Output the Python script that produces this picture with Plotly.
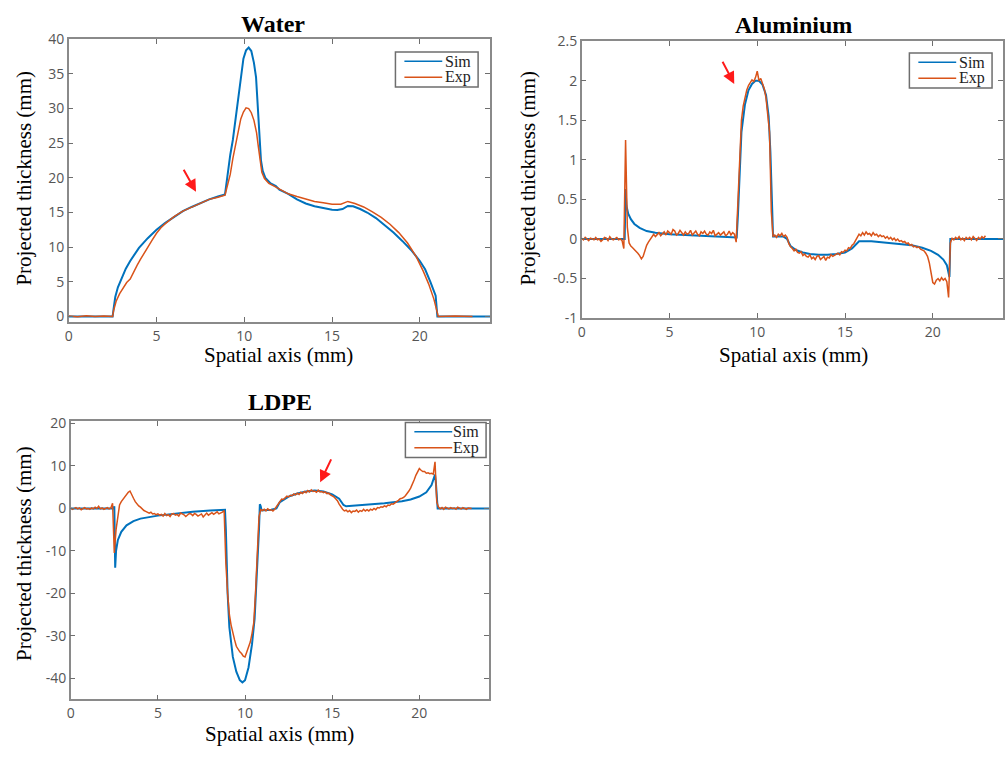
import numpy as np
import plotly.graph_objects as go

SIM_C = "#0072BD"
EXP_C = "#D95319"
series_names = ["Sim", "Exp"]

# ---------------- Water ----------------
water_sim_x = [0, 2.5, 2.55, 2.65, 2.8, 3.0, 3.25, 3.5, 3.75, 4.0, 4.5, 5.0, 5.5, 6.0, 6.5, 7.0, 7.5, 8.0, 8.5, 8.9,
               9.0, 9.1, 9.2, 9.35, 9.5, 9.65, 9.8, 9.95, 10.1, 10.25, 10.4, 10.55, 10.67, 10.78, 10.85, 10.95, 11.05,
               11.2, 11.5, 11.8, 12.0, 12.5, 13.0, 13.5, 14.0, 14.5, 15.0, 15.3, 15.6, 15.9, 16.2, 16.6, 17.0, 17.5,
               18.0, 18.5, 19.0, 19.5, 20.0, 20.3, 20.6, 20.9, 21.0, 24.0]
water_sim_y = [0, 0, 1.0, 2.8, 4.2, 5.5, 6.9, 8.0, 9.0, 9.9, 11.3, 12.5, 13.5, 14.4, 15.2, 15.8, 16.4, 16.9, 17.3, 17.6,
               19.5, 21.5, 23.3, 25.5, 28.5, 32.0, 35.0, 37.2, 38.4, 38.8, 38.3, 36.6, 34.5, 30.0, 26.5, 22.5, 21.0,
               20.0, 19.2, 18.8, 18.3, 17.7, 16.9, 16.3, 15.9, 15.6, 15.4, 15.35, 15.5, 15.95, 15.9, 15.5, 15.0, 14.2,
               13.2, 12.1, 10.9, 9.6, 8.0, 6.8, 5.0, 3.0, 0, 0]
water_exp_x = [0, 0.5, 1.0, 1.5, 2.0, 2.5, 2.55, 2.7, 2.9, 3.1, 3.3, 3.5, 3.7, 3.9, 4.1, 4.3, 4.5, 4.75, 5.0, 5.25, 5.5,
               5.75, 6.0, 6.5, 7.0, 7.5, 8.0, 8.5, 8.9, 9.05, 9.2, 9.35, 9.5, 9.65, 9.8, 9.95, 10.1, 10.25, 10.4, 10.55,
               10.7, 10.8, 10.9, 11.0, 11.15, 11.4, 11.7, 12.0, 12.5, 13.0, 13.5, 14.0, 14.5, 15.0, 15.5, 15.9, 16.3,
               16.8, 17.3, 17.8, 18.3, 18.8, 19.3, 19.8, 20.2, 20.5, 20.8, 20.95, 21.05, 22.0, 23.0]
water_exp_y = [0.05, -0.05, 0.1, 0.0, 0.05, 0.0, 0.8, 2.2, 3.3, 4.2, 4.9, 5.4, 6.5, 7.4, 8.3, 9.2, 10.0, 11.0, 12.0, 12.8,
               13.4, 13.9, 14.4, 15.2, 15.8, 16.4, 16.9, 17.2, 17.5, 19.0, 20.5, 22.8, 24.7, 26.8, 28.5, 29.5, 30.1,
               30.0, 29.4, 28.3, 26.5, 24.5, 22.5, 20.8, 19.9, 19.2, 18.8, 18.4, 17.7, 17.3, 16.9, 16.6, 16.4, 16.2,
               16.2, 16.6, 16.3, 15.8, 15.1, 14.3, 13.3, 12.1, 10.6, 8.6, 6.5, 4.7, 2.5, 1.2, 0.0, 0.05, 0.0]

# ---------------- Aluminium ----------------
al_sim_x = [0, 2.45, 2.5, 2.55, 2.65, 2.8, 3.0, 3.3, 3.7, 4.2, 5.0, 6.0, 7.0, 8.0, 8.83, 8.9, 9.0, 9.1, 9.3, 9.5, 9.7,
            9.9, 10.1, 10.3, 10.5, 10.65, 10.75, 10.85, 10.9, 11.5, 11.7, 11.9, 12.2, 12.6, 13.0, 13.5, 14.0, 14.5,
            15.0, 15.4, 15.7, 15.8, 16.5, 17.0, 18.0, 18.8, 19.4, 19.9, 20.3, 20.6, 20.8, 20.9, 20.95, 21.0, 24.0]
al_sim_y = [0, 0, 0.63, 0.42, 0.32, 0.25, 0.19, 0.14, 0.10, 0.08, 0.06, 0.05, 0.04, 0.03, 0.02, 0.3, 0.95, 1.35, 1.7,
            1.88, 1.96, 2.0, 2.0, 1.95, 1.82, 1.55, 1.1, 0.3, 0.03, 0.03, 0.0, -0.09, -0.14, -0.17, -0.19, -0.2, -0.2,
            -0.19, -0.17, -0.12, -0.05, -0.03, -0.03, -0.04, -0.06, -0.08, -0.11, -0.15, -0.2, -0.26, -0.33, -0.42,
            -0.48, 0.0, 0.0]
al_exp_x = [round(0.1 * i, 1) for i in range(231)]
al_exp_y = [
    0.01, -0.01, 0.02, 0.00, -0.02, 0.01, 0.00, -0.01, 0.02, -0.01,
    0.00, -0.03, -0.01, 0.02, 0.01, -0.02, 0.03, 0.00, -0.01, 0.01,
    0.02, -0.01, 0.00, -0.02, -0.12, 1.25, 0.15, -0.05, -0.09, -0.11,
    -0.13, -0.15, -0.18, -0.21, -0.25, -0.22, -0.14, -0.08, -0.04, -0.01,
    0.02, 0.06, 0.03, 0.05, 0.08, 0.04, 0.07, 0.09, 0.05, 0.10,
    0.08, 0.06, 0.12, 0.10, 0.05, 0.07, 0.11, 0.08, 0.05, 0.09,
    0.06, 0.07, 0.11, 0.05, 0.08, 0.10, 0.06, 0.04, 0.09, 0.07,
    0.10, 0.06, 0.05, 0.09, 0.07, 0.11, 0.04, 0.06, 0.08, 0.05,
    0.07, 0.09, 0.04, 0.06, 0.10, 0.05, 0.08, 0.06, -0.04, 0.45,
    1.05, 1.50, 1.68, 1.80, 1.88, 1.94, 1.97, 2.01, 1.99, 2.04,
    2.12, 2.00, 2.03, 1.95, 1.90, 1.78, 1.60, 1.35, 0.35, 0.03,
    0.05, 0.02, 0.06, 0.04, 0.07, 0.03, 0.05, 0.02, -0.06, -0.10,
    -0.12, -0.15, -0.13, -0.17, -0.18, -0.16, -0.21, -0.19, -0.22, -0.23,
    -0.20, -0.25, -0.23, -0.26, -0.22, -0.21, -0.26, -0.24, -0.22, -0.27,
    -0.23, -0.24, -0.20, -0.22, -0.21, -0.19, -0.18, -0.20, -0.16, -0.17,
    -0.14, -0.15, -0.11, -0.12, -0.08, -0.06, -0.02, 0.03, 0.06, 0.04,
    0.08, 0.05, 0.09, 0.06, 0.07, 0.04, 0.08, 0.05, 0.06, 0.03,
    0.05, 0.03, 0.04, 0.01, 0.03, 0.00, 0.02, -0.01, 0.01, -0.02,
    0.00, -0.03, -0.02, -0.04, -0.03, -0.06, -0.05, -0.08, -0.07, -0.10,
    -0.09, -0.11, -0.10, -0.13, -0.14, -0.15, -0.18, -0.22, -0.30, -0.42,
    -0.55, -0.57, -0.52, -0.50, -0.53, -0.49, -0.52, -0.50, -0.54, -0.74,
    -0.05, 0.01, -0.01, 0.02, 0.00, 0.03, -0.01, 0.01, -0.02, 0.02,
    0.00, 0.02, -0.01, 0.03, 0.01, -0.02, 0.02, 0.00, 0.03, 0.01,
    0.04]

# ---------------- LDPE ----------------
ldpe_sim_x = [0, 2.45, 2.5, 2.55, 2.6, 2.7, 2.9, 3.2, 3.6, 4.0, 5.0, 6.0, 7.0, 8.0, 8.85, 8.9, 9.0, 9.1, 9.3, 9.5, 9.7,
              9.85, 10.0, 10.2, 10.4, 10.55, 10.7, 10.8, 10.85, 10.9, 10.95, 11.5, 11.8, 12.0, 12.5, 13.0, 13.5, 14.0,
              14.5, 15.0, 15.4, 15.65, 15.8, 16.5, 17.0, 18.0, 19.0, 19.5, 20.0, 20.4, 20.7, 20.9, 20.95, 21.0, 21.05,
              24.0]
ldpe_sim_y = [0, 0, 0.5, -14.0, -10.0, -7.5, -5.5, -4.0, -3.0, -2.4, -1.7, -1.2, -0.8, -0.5, -0.3, -5.0, -20.0, -28.0,
              -35.0, -38.5, -40.5, -41.0, -40.5, -37.5, -32.0, -26.0, -15.0, -5.0, 1.0, 0.5, -0.5, -0.3, 0.0, 1.5, 2.8,
              3.5, 4.0, 4.2, 4.0, 3.3, 2.3, 0.8, 0.5, 0.7, 0.9, 1.2, 1.7, 2.1, 2.8, 3.8, 5.5, 8.0, 6.0, 2.0, 0.0, 0.0]
ldpe_exp_x = [round(0.1 * i, 1) for i in range(231)]
ldpe_exp_y = [
    0.1, -0.2, 0.0, 0.2, -0.1, 0.1, -0.3, 0.0, 0.2, -0.1,
    0.0, -0.2, 0.1, -0.1, 0.3, 0.0, 0.5, -0.1, 0.1, -0.2,
    0.0, 0.2, -0.1, 0.1, 1.2, -10.5, -5.0, -1.5, 0.8, 1.6,
    2.2, 2.8, 3.3, 3.8, 4.1, 3.4, 2.4, 1.6, 1.0, 0.6,
    0.3, -0.2, -0.5, -0.7, -1.0, -1.1, -0.9, -1.3, -1.2, -1.5,
    -1.3, -1.6, -1.4, -1.8, -1.2, -1.7, -1.5, -1.9, -1.3, -1.2,
    -1.6, -1.4, -1.8, -1.1, -1.3, -1.5, -1.9, -1.6, -1.2, -1.3,
    -1.7, -1.2, -1.4, -1.8, -1.5, -1.3, -2.0, -1.4, -1.1, -1.6,
    -1.2, -1.0, -1.4, -1.1, -0.8, -1.3, -1.1, -0.9, -0.5, -13.0,
    -20.0, -25.0, -27.5, -29.5, -31.0, -32.5, -33.2, -33.8, -34.2, -34.8,
    -35.0, -33.8, -33.0, -31.5, -29.5, -27.0, -20.0, -10.0, -2.0, -0.3,
    -0.5, -0.2, -0.6, -0.1, -0.4, -0.3, -0.6, -0.2, 0.4, 1.2,
    1.8, 2.2, 2.1, 2.6, 2.9, 2.7, 3.1, 3.0, 3.4, 3.2,
    3.6, 3.3, 3.8, 3.5, 4.0, 3.7, 4.2, 3.9, 4.4, 4.0,
    4.1, 3.8, 4.3, 3.9, 4.0, 3.7, 3.9, 3.5, 3.6, 3.2,
    3.0, 2.7, 2.3, 1.8, 1.0, 0.3, -0.2, -0.6, -0.4, -0.8,
    -0.5, -1.0, -0.6, -0.7, -0.4, -0.9, -0.5, -0.7, -0.2, -0.6,
    -0.3, -0.6, -0.2, -0.4, 0.0, -0.3, 0.2, 0.1, 0.4, 0.3,
    0.6, 0.4, 0.8, 0.7, 1.1, 1.0, 1.4, 1.6, 1.9, 2.3,
    2.4, 2.6, 3.0, 3.5, 4.1, 4.8, 5.6, 6.7, 7.8, 8.8,
    9.4, 9.0, 8.7, 8.7, 8.3, 8.4, 8.2, 8.3, 8.1, 11.0,
    1.5, 0.3, -0.1, 0.2, -0.2, 0.3, 0.1, -0.1, 0.2, 0.0,
    0.1, -0.2, 0.3, 0.0, -0.1, 0.2, 0.0, -0.2, 0.1, 0.0,
    0.0]

# tick labels
water_yticks = [0, 5, 10, 15, 20, 25, 30, 35, 40]
al_yticks = [-1, -0.5, 0, 0.5, 1, 1.5, 2, 2.5]
al_yticktext = ["-1", "-0.5", "0", "0.5", "1", "1.5", "2", "2.5"]
ldpe_yticks = [-40, -30, -20, -10, 0, 10, 20]
ldpe_yticktext = ["-40", "-30", "-20", "-10", "0", "10", "20"]
xticks = [0, 5, 10, 15, 20]

W, H = 1005, 760
def px(x):
    return x / W
def py(y):
    return 1 - y / H

fig = go.Figure()
SERIF = "Liberation Serif"

def add_pair(sx, sy, ex, ey, xa, ya):
    fig.add_trace(go.Scatter(x=sx, y=sy, mode="lines", name=series_names[0], line=dict(color=SIM_C, width=2),
                             xaxis=xa, yaxis=ya, showlegend=False))
    fig.add_trace(go.Scatter(x=ex, y=ey, mode="lines", name=series_names[1], line=dict(color=EXP_C, width=1.5),
                             xaxis=xa, yaxis=ya, showlegend=False))

add_pair(water_sim_x, water_sim_y, water_exp_x, water_exp_y, "x", "y")
add_pair(al_sim_x, al_sim_y, al_exp_x, al_exp_y, "x2", "y2")
add_pair(ldpe_sim_x, ldpe_sim_y, ldpe_exp_x, ldpe_exp_y, "x3", "y3")

axis_common = dict(showline=True, linecolor="#8a8a8a", linewidth=1.5, mirror="ticks", ticks="inside",
                   ticklen=5, tickwidth=1, tickcolor="#6e6e6e", showgrid=False, zeroline=False,
                   tickfont=dict(family="Open Sans", size=14, color="#555555"))

fig.update_layout(
    width=W, height=H, margin=dict(l=0, r=0, t=0, b=0),
    paper_bgcolor="white", plot_bgcolor="white", showlegend=False,
    xaxis=dict(domain=[px(65), px(488)], range=[0, 24], anchor="y", tickvals=xticks, **axis_common),
    yaxis=dict(domain=[py(320), py(30)], range=[-0.8, 40], anchor="x", tickvals=water_yticks, **axis_common),
    xaxis2=dict(domain=[px(580), px(1003)], range=[0, 24], anchor="y2", tickvals=xticks, **axis_common),
    yaxis2=dict(domain=[py(316), py(32)], range=[-1, 2.5], anchor="x2", tickvals=al_yticks,
                ticktext=al_yticktext, **axis_common),
    xaxis3=dict(domain=[px(67), px(487)], range=[0, 24], anchor="y3", tickvals=xticks, **axis_common),
    yaxis3=dict(domain=[py(707), py(422)], range=[-45, 20.5], anchor="x3", tickvals=ldpe_yticks,
                ticktext=ldpe_yticktext, **axis_common),
)

# MATLAB-style boxed legend inside each panel (top right)
def legend_box(left, top, right, bottom):
    fig.add_shape(type="rect", xref="paper", yref="paper", x0=px(left), x1=px(right), y0=py(bottom), y1=py(top),
                  line=dict(color="#6e6e6e", width=1.5), fillcolor="white", layer="above")
    rows = [(top + 9.5, SIM_C, series_names[0]), (top + 26, EXP_C, series_names[1])]
    for yy, col, name in rows:
        fig.add_shape(type="line", xref="paper", yref="paper", x0=px(left + 9), x1=px(left + 47),
                      y0=py(yy), y1=py(yy), line=dict(color=col, width=1.5), layer="above")
        fig.add_annotation(text=name, x=px(right - 5), y=py(yy), xref="paper", yref="paper", showarrow=False,
                           xanchor="right", yanchor="middle", font=dict(family=SERIF, size=16, color="#222222"))

legend_box(393, 43, 476, 79)
legend_box(909, 44, 992, 80)
legend_box(403, 423, 484, 459)

def label(text, x, y, size, bold=False, angle=0):
    fig.add_annotation(text=("<b>%s</b>" % text) if bold else text, x=px(x), y=py(y), xref="paper", yref="paper",
                       showarrow=False, textangle=angle, xanchor="center", yanchor="middle",
                       font=dict(family=SERIF, size=size, color="black"))

label("Water", 270, 14, 24, bold=True)
label("Aluminium", 793, 15, 24, bold=True)
label("LDPE", 277, 402, 24, bold=True)
for (x, y) in [(276, 354), (793, 354), (277, 743)]:
    label("Spatial axis (mm)", x, y, 21)
for (x, y) in [(20, 172), (526, 172), (20, 557)]:
    label("Projected thickness (mm)", x, y, 21, angle=-90)

# red arrows (data coordinates)
arrows = [("x", "y", 7.25, 18.0, 6.5, 21.4), ("x2", "y2", 8.69, 1.96, 7.98, 2.26), ("x3", "y3", 14.31, 6.15, 14.98, 11.9)]
for xa, ya, hx, hy, tx, ty in arrows:
    fig.add_annotation(x=hx, y=hy, ax=tx, ay=ty, xref=xa, yref=ya, axref=xa, ayref=ya, text="",
                       showarrow=True, arrowhead=2, arrowsize=1.2, arrowwidth=2, arrowcolor="#ff1a1a")

fig.write_html("out.html")
